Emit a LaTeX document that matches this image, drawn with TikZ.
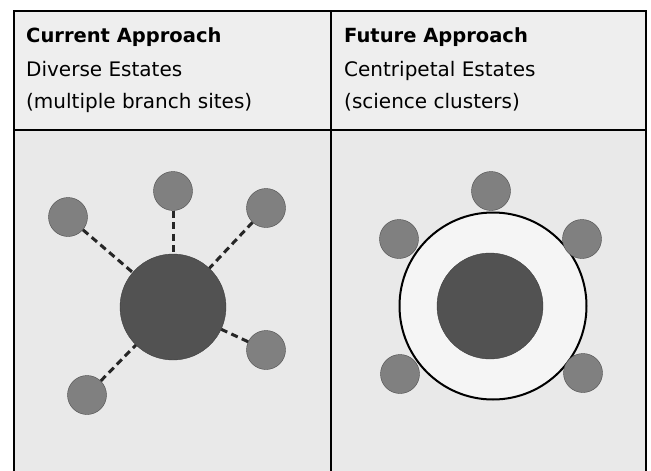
\documentclass[tikz,border=0pt]{standalone}
\usepackage{fontspec}
\setmainfont{DejaVu Sans}
\usetikzlibrary{calc}
\tikzset{>=latex}
\tikzstyle{site}=[circle,draw=black!70,fill=black!50,thin,minimum size=39pt,inner sep=0pt]
\tikzstyle{hub}=[circle,draw=black!75,fill=black!68,thin,minimum size=106pt,inner sep=0pt]
\tikzstyle{ring}=[circle,draw=black,fill=gray!8,line width=2pt,minimum size=187pt,inner sep=0pt]
\tikzstyle{link}=[draw=black!85,line width=3pt,dash pattern=on 7pt off 4.5pt]
\tikzstyle{head}=[anchor=base west,inner sep=0pt,font=\fontsize{20}{23}\selectfont]
\tikzstyle{rule}=[line width=2pt]

\begin{document}
\begin{tikzpicture}[x=1pt,y=-1pt]
\def \lft {14};
\def \rgt {646};
\def \tp {11};
\def \mid {331};
\def \sep {130};
\def \bt {471};

% page and table
\useasboundingbox (0,0) rectangle (651,471);
\fill[gray!17] (\lft,\tp) rectangle (\rgt,\bt);
\fill[gray!13] (\lft,\tp) rectangle (\rgt,\sep);
\draw[rule] (\lft,\bt) -- (\lft,\tp) -- (\rgt,\tp) -- (\rgt,\bt);
\draw[rule] (\mid,\tp) -- (\mid,\bt);
\draw[rule] (\lft,\sep) -- (\rgt,\sep);

% headings
\node[head,font=\fontsize{19.5}{23}\selectfont\bfseries] (cur1) at (26,42) {Current Approach};
\node[head] (cur2) at (26,76) {Diverse Estates};
\node[head] (cur3) at (26,108) {(multiple branch sites)};
\node[head,font=\fontsize{19.5}{23}\selectfont\bfseries] (fut1) at (344,42) {Future Approach};
\node[head] (fut2) at (344,76) {Centripetal Estates};
\node[head] (fut3) at (344,108) {(science clusters)};

% current approach: hub and spokes
\node[hub] (H) at (173,307) {};
\foreach \n/\x/\y in {1/173/191, 2/68/217, 3/266/208, 4/266/350, 5/87/395} {
	\node[site] (S\n) at (\x,\y) {};
	\draw[link] (S\n) -- (H);
};

% future approach: cluster
\node[ring] (R) at (493,306) {};
\node[hub] (C) at (490,306) {};
\foreach \n/\x/\y in {1/491/191, 2/399/239, 3/582/239, 4/400/374, 5/583/373} {
	\node[site] (T\n) at (\x,\y) {};
};

\end{tikzpicture}
\end{document}
